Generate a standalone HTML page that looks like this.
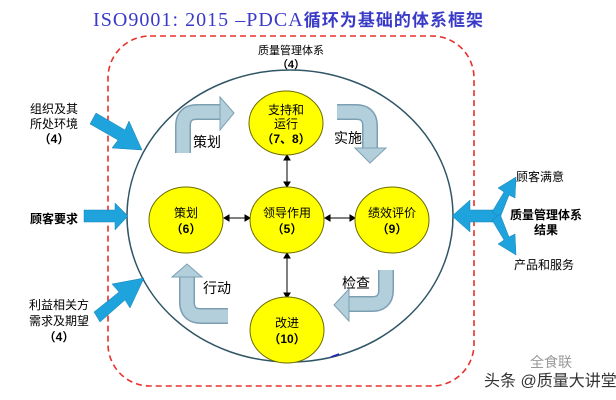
<!DOCTYPE html>
<html><head><meta charset="utf-8"><style>
html,body{margin:0;padding:0;background:#fff;}
svg{display:block;}
text{font-family:"Liberation Sans","Noto Sans CJK SC",sans-serif;}
</style></head><body>
<svg width="616" height="400" viewBox="0 0 616 400" xmlns="http://www.w3.org/2000/svg">
<rect width="616" height="400" fill="#fff"/>
<text x="288" y="26" text-anchor="middle" font-size="20" fill="#3a3ac8" style="font-family:'Liberation Serif','Noto Serif CJK SC',serif" textLength="390">ISO9001: 2015 –PDCA<tspan font-weight="bold" style="font-family:'Noto Sans CJK SC',sans-serif" font-size="17">循环为基础的体系框架</tspan></text>
<rect x="108" y="36" width="366" height="350" rx="42" fill="none" stroke="#e8302a" stroke-width="1.6" stroke-dasharray="6,4"/>
<text x="291" y="54" text-anchor="middle" font-size="11">质量管理体系</text>
<text x="291" y="68" text-anchor="middle" font-size="11" font-weight="bold">（4）</text>
<ellipse cx="290" cy="216" rx="163" ry="146" fill="#fff" stroke="#2f5566" stroke-width="1.5"/>
<g stroke="#7d9fb2" stroke-width="16" fill="none">
<path d="M183,153 V126 Q183,112 197,112 H222"/>
<path d="M337,112 H356 Q370,112 370,126 V149"/>
<path d="M386,270 V290 Q386,304 372,304 H348"/>
<path d="M228,316 H201 Q187,316 187,302 V276"/>
</g>
<g stroke="#b3cfdc" stroke-width="13" fill="none">
<path d="M183,153 V126 Q183,112 197,112 H223"/>
<path d="M337,112 H356 Q370,112 370,126 V150"/>
<path d="M386,270 V290 Q386,304 372,304 H347"/>
<path d="M228,316 H201 Q187,316 187,302 V275"/>
</g>
<g fill="#b3cfdc" stroke="#7d9fb2" stroke-width="1">
<polygon points="220,97 234,113 220,130"/>
<polygon points="355,148 386,148 370,163"/>
<polygon points="349,289 349,321 334,305"/>
<polygon points="172,277 202,277 187,264"/>
</g>
<text x="207" y="147" text-anchor="middle" font-size="14">策划</text>
<text x="348" y="143" text-anchor="middle" font-size="14">实施</text>
<text x="356" y="288" text-anchor="middle" font-size="14">检查</text>
<text x="217" y="293" text-anchor="middle" font-size="14">行动</text>
<g stroke="#000" stroke-width="1" fill="#000">
<line x1="287" y1="157" x2="287" y2="185"/><polygon points="284,160 290,160 287,155"/><polygon points="284,182 290,182 287,187"/>
<line x1="287" y1="255" x2="287" y2="295"/><polygon points="284,258 290,258 287,253"/><polygon points="284,293 290,293 287,298"/>
<line x1="226" y1="218" x2="247" y2="218"/><polygon points="229,215 229,221 224,218"/><polygon points="245,215 245,221 250,218"/>
<line x1="327" y1="218" x2="352" y2="218"/><polygon points="330,215 330,221 325,218"/><polygon points="350,215 350,221 355,218"/>
</g>
<g fill="#ffff00" stroke="#6b6b00" stroke-width="1">
<ellipse cx="286" cy="123" rx="37" ry="32"/>
<ellipse cx="186" cy="220" rx="37" ry="33"/>
<ellipse cx="287" cy="220" rx="37" ry="33"/>
<ellipse cx="392" cy="220" rx="37" ry="33"/>
<ellipse cx="287" cy="330" rx="37" ry="33"/>
</g>
<g font-size="12" text-anchor="middle" fill="#000">
<text x="286" y="114">支持和</text><text x="286" y="128">运行</text><text x="286" y="143" font-weight="bold">（7、8）</text>
<text x="186" y="217">策划</text><text x="186" y="233" font-weight="bold">（6）</text>
<text x="287" y="217">领导作用</text><text x="287" y="233" font-weight="bold">（5）</text>
<text x="392" y="217">绩效评价</text><text x="392" y="233" font-weight="bold">（9）</text>
<text x="287" y="327">改进</text><text x="287" y="343" font-weight="bold">（10）</text>
</g>
<g fill="#1fa3dd" stroke="#1580b0" stroke-width="0.5">
<polygon points="90,124 96,113 125,130 129,121 142,150 112,148 118,140"/>
<polygon points="84,210 115,210 115,203 128,216 115,230 115,222 84,222"/>
<polygon points="94,312 100,322 125,300 130,308 144,278 112,284 119,292"/>
<polygon points="452,216 470,200 470,210 500,210 500,222 470,222 470,232"/>
<polygon points="492,212 504,192 498,188 516,177 515,198 509,195 500,218"/>
<polygon points="492,220 504,240 498,244 516,255 515,234 509,237 500,214"/>
</g>
<line x1="331" y1="357" x2="339" y2="354" stroke="#2020c0" stroke-width="1.5"/>
<g font-size="12" fill="#000" text-anchor="middle">
<text x="54" y="113">组织及其</text><text x="54" y="128">所处环境</text><text x="54" y="143" font-weight="bold">（4）</text>
<text x="54" y="223" font-weight="bold">顾客要求</text>
<text x="59" y="309">利益相关方</text><text x="59" y="325">需求及期望</text><text x="59" y="341" font-weight="bold">（4）</text>
<text x="540" y="181">顾客满意</text>
<text x="546" y="219" font-weight="bold">质量管理体系</text><text x="546" y="234" font-weight="bold">结果</text>
<text x="544" y="269">产品和服务</text>
</g>
<text x="530" y="367" font-size="14" fill="#999">全食联</text>
<text x="484" y="386" font-size="16" fill="#333">头条 @质量大讲堂</text>
</svg>
</body></html>
